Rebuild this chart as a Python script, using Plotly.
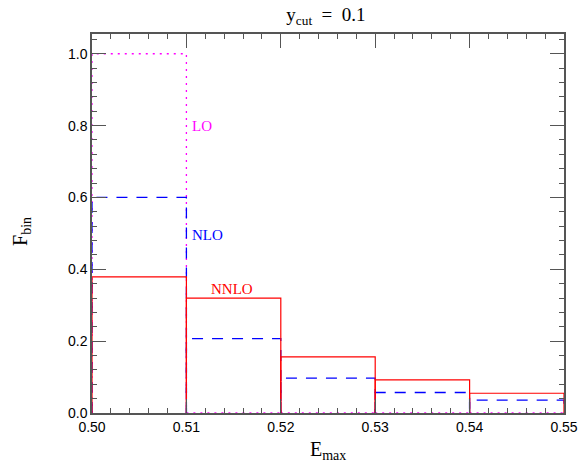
import plotly.graph_objects as go

bin_edges = [0.50, 0.51, 0.52, 0.53, 0.54, 0.55]
lo_values = [1.0, 0.0, 0.0, 0.0, 0.0]
nlo_values = [0.60, 0.207, 0.097, 0.057, 0.036]
nnlo_values = [0.379, 0.320, 0.156, 0.092, 0.055]

x_ticks = [0.50, 0.51, 0.52, 0.53, 0.54, 0.55]
x_tick_labels = ["0.50", "0.51", "0.52", "0.53", "0.54", "0.55"]
y_ticks = [0.0, 0.2, 0.4, 0.6, 0.8, 1.0]
y_tick_labels = ["0.0", "0.2", "0.4", "0.6", "0.8", "1.0"]


def boxes(edges, vals):
    xs, ys = [], []
    for i, v in enumerate(vals):
        x0, x1 = edges[i], edges[i + 1]
        xs += [x0, x0, x1, x1, None]
        ys += [0, v, v, 0, None]
    return xs, ys


fig = go.Figure()
series = [
    ("LO", lo_values, "#ff00ff", dict(width=1.3, dash="2px,5px")),
    ("NLO", nlo_values, "#0000ff", dict(width=1.3, dash="11px,9px")),
    ("NNLO", nnlo_values, "#ff0000", dict(width=1.2)),
]
for name, vals, col, ls in series:
    xs, ys = boxes(bin_edges, vals)
    fig.add_trace(go.Scatter(x=xs, y=ys, mode="lines", name=name,
                             line=dict(color=col, **ls), showlegend=False,
                             connectgaps=False))

label_font = dict(family="Liberation Serif", size=15)
fig.add_annotation(x=0.5104, y=0.80, text="LO", showarrow=False, xanchor="left",
                   font=dict(color="#ff00ff", **label_font))
fig.add_annotation(x=0.5104, y=0.495, text="NLO", showarrow=False, xanchor="left",
                   font=dict(color="#0000ff", **label_font))
fig.add_annotation(x=0.5124, y=0.345, text="NNLO", showarrow=False, xanchor="left",
                   font=dict(color="#ff0000", **label_font))

title_font = dict(family="Liberation Serif", size=20, color="black")
fig.add_annotation(xref="paper", yref="paper", x=0.5, y=-0.10, yanchor="middle",
                   text="E<sub>max</sub>", showarrow=False, font=title_font)
fig.add_annotation(xref="paper", yref="paper", x=-0.148, y=0.478, xanchor="center",
                   yanchor="middle", textangle=-90,
                   text="F<sub>bin</sub>", showarrow=False, font=title_font)

axis_common = dict(
    showline=True, linecolor="#555555", linewidth=1.5, mirror="allticks",
    ticks="inside", ticklen=14, tickwidth=1.3, tickcolor="#555555",
    showgrid=False, zeroline=False, automargin=False,
    tickfont=dict(family="Liberation Sans", size=14, color="black"),
)

fig.update_layout(
    width=579, height=464,
    margin=dict(l=92, r=15, t=34, b=51, autoexpand=False),
    paper_bgcolor="white", plot_bgcolor="white",
    title=dict(text="y<sub>cut</sub>&nbsp;&nbsp;=&nbsp;&nbsp;0.1", x=0.563, xanchor="center",
               y=0.968, yanchor="middle",
               font=dict(family="Liberation Serif", size=19, color="black")),
    xaxis=dict(range=[0.50, 0.55], tickvals=x_ticks, ticktext=x_tick_labels,
               minor=dict(dtick=0.002, ticklen=5, ticks="inside", tickcolor="#555555", tickwidth=1.2),
               **axis_common),
    yaxis=dict(range=[0, 1.055], tickvals=y_ticks, ticktext=y_tick_labels,
               minor=dict(dtick=0.04, ticklen=5, ticks="inside", tickcolor="#555555", tickwidth=1.2),
               **axis_common),
)

fig.write_html("out.html", config={"displayModeBar": False},
               post_script="document.body.style.margin='0';")
